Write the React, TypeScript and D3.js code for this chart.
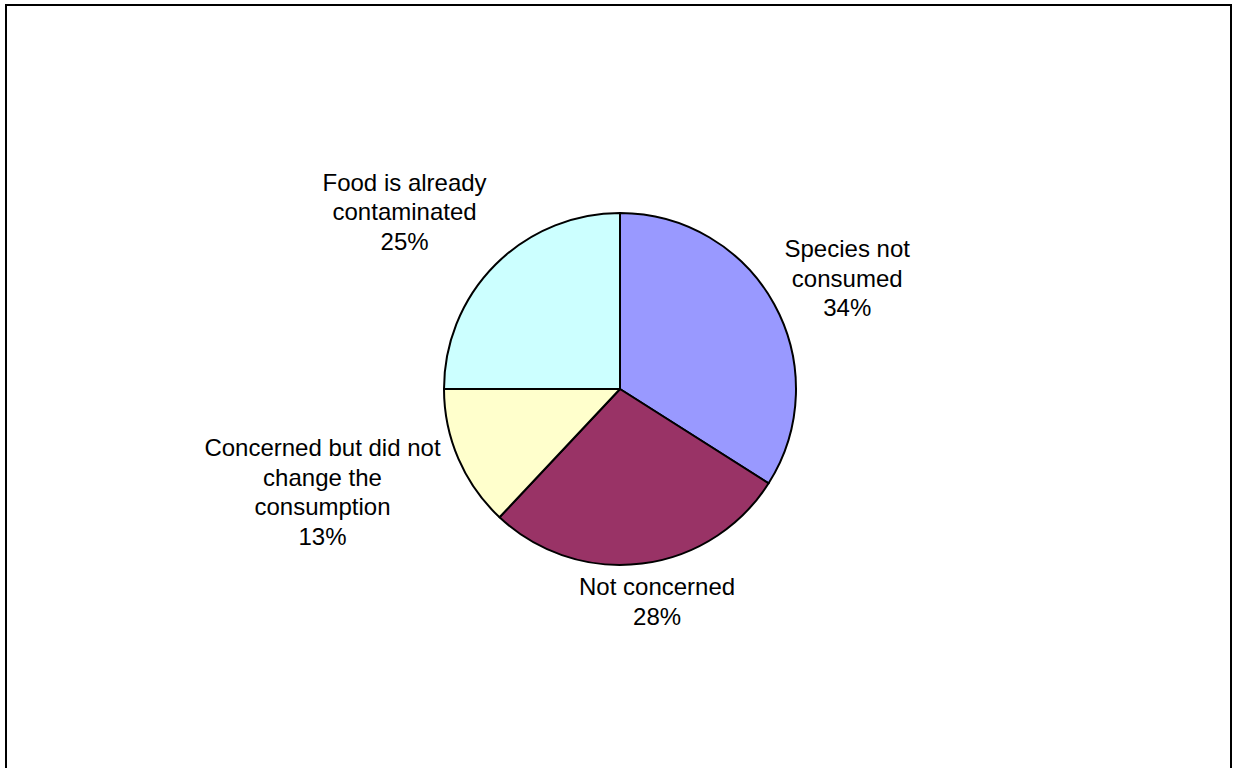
import React from "react";
import * as d3 from "d3";

const categories = [
  ["Species not", "consumed"],
  ["Not concerned"],
  ["Concerned but did not", "change the", "consumption"],
  ["Food is already", "contaminated"],
];
const values = [34, 28, 13, 25];
const colors = ["#9999FF", "#993366", "#FFFFCC", "#CCFFFF"];

// label nudges relative to the slice's outer edge midpoint
const labelNudge: [number, number][] = [
  [73, -26],
  [15, 38],
  [-136, 33],
  [-91, -53],
];

const W = 1233;
const H = 768;
const CX = 620;
const CY = 389;
const R = 176;
const FONT = 24;
const LINE = 29.5;

export default function App() {
  const pie = d3.pie<number>().sort(null).value((d) => d);
  const arcs = pie(values);
  const arc = d3.arc<d3.PieArcDatum<number>>().innerRadius(0).outerRadius(R);
  const edge = d3.arc<d3.PieArcDatum<number>>().innerRadius(R).outerRadius(R);
  return (
    <svg
      width={W}
      height={H}
      style={{ position: "absolute", left: 0, top: 0, background: "#fff" }}
      fontFamily="'Liberation Sans', Arial, sans-serif"
    >
      <rect x={6} y={5} width={1225} height={H + 20} fill="#fff" stroke="#000" strokeWidth={2} />
      <g transform={`translate(${CX},${CY})`}>
        {arcs.map((a, i) => (
          <path key={i} d={arc(a) || ""} fill={colors[i]} stroke="#000" strokeWidth={2} strokeLinejoin="round" />
        ))}
        {arcs.map((a, i) => {
          const [ex, ey] = edge.centroid(a);
          const lx = ex + labelNudge[i][0];
          const ly = ey + labelNudge[i][1];
          const lines = [...categories[i], `${values[i]}%`];
          const n = lines.length;
          return (
            <text key={"t" + i} textAnchor="middle" fontSize={FONT} fill="#000">
              {lines.map((s, j) => (
                <tspan key={j} x={lx} y={ly + (j - (n - 1) / 2) * LINE + 8.5}>
                  {s}
                </tspan>
              ))}
            </text>
          );
        })}
      </g>
    </svg>
  );
}
